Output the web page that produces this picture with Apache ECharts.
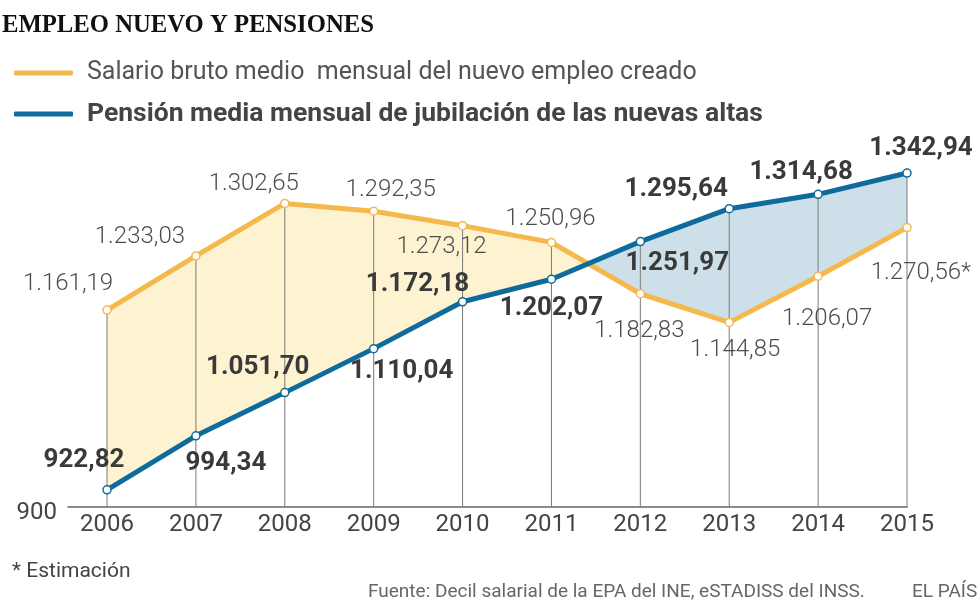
<!DOCTYPE html>
<html>
<head>
<meta charset="utf-8">
<script src="https://cdn.jsdelivr.net/npm/echarts@6/dist/echarts.min.js"></script>
<style>html,body{margin:0;padding:0;background:#fff}#c{width:980px;height:608px}</style>
</head>
<body>
<div id="c"></div>
<script>
// ---- data ----
const years = [2006, 2007, 2008, 2009, 2010, 2011, 2012, 2013, 2014, 2015];
const salario = [1161.19, 1233.03, 1302.65, 1292.35, 1273.12, 1250.96, 1182.83, 1144.85, 1206.07, 1270.56];
const pension = [922.82, 994.34, 1051.70, 1110.04, 1172.18, 1202.07, 1251.97, 1295.64, 1314.68, 1342.94];
const estimado = [false, false, false, false, false, false, false, false, false, true];
const yTicks = [900];
const seriesNames = ['Salario bruto medio  mensual del nuevo empleo creado', 'Pensión media mensual de jubilación de las nuevas altas'];

// ---- styling (label offsets relative to point) ----
const salOffsets = [[-39,-26],[-56,-19],[-31,-19],[17,-21],[-21,21],[-1,-23],[-1,37],[6,28],[9,43],[14,45]];
const penOffsets = [[-23,-29],[30,28],[-27,-25],[28,23],[-45,-17],[0,29],[37,22],[-53,-19],[-17,-22],[14,-25]];

const ORANGE = '#f5b84c', BLUE = '#0f6b9c', FILL_Y = '#fdf3d0', FILL_B = '#cde0ea';
const FONT = 'Roboto, "Liberation Sans", sans-serif';
const BASE = yTicks[0];

function fmt(v) {
  const parts = v.toFixed(2).split('.');
  const intPart = parts[0].replace(/\B(?=(\d{3})+(?!\d))/g, '.');
  return intPart + ',' + parts[1];
}

const chart = echarts.init(document.getElementById('c'), null, {renderer: 'canvas'});

function renderBetween(params, api) {
  const i = api.value(0);
  const children = [];
  if (i < years.length - 1) {
    const x0 = years[i], x1 = years[i + 1];
    const s0 = salario[i], s1 = salario[i + 1], p0 = pension[i], p1 = pension[i + 1];
    const d0 = s0 - p0, d1 = s1 - p1;
    if (d0 * d1 >= 0) {
      const pts = [api.coord([x0, s0]), api.coord([x1, s1]), api.coord([x1, p1]), api.coord([x0, p0])];
      children.push({type: 'polygon', shape: {points: pts}, style: {fill: d0 + d1 >= 0 ? FILL_Y : FILL_B}});
    } else {
      const t = d0 / (d0 - d1);
      const xc = x0 + t * (x1 - x0);
      const yc = s0 + t * (s1 - s0);
      const c = api.coord([xc, yc]);
      children.push({type: 'polygon', shape: {points: [api.coord([x0, s0]), c, api.coord([x0, p0])]}, style: {fill: d0 > 0 ? FILL_Y : FILL_B}});
      children.push({type: 'polygon', shape: {points: [c, api.coord([x1, s1]), api.coord([x1, p1])]}, style: {fill: d1 > 0 ? FILL_Y : FILL_B}});
    }
  }
  const top = api.coord([years[i], Math.max(salario[i], pension[i])]);
  const bot = api.coord([years[i], BASE]);
  children.push({type: 'line', shape: {x1: top[0], y1: top[1], x2: bot[0], y2: bot[1]}, style: {stroke: '#7a7a7a', lineWidth: 1}});
  return {type: 'group', children: children};
}

const option = {
  animation: false,
  backgroundColor: '#fff',
  grid: {left: 68, right: 73, top: 130, bottom: 101},
  xAxis: {
    type: 'value', min: 2005.561, max: 2015,
    splitLine: {show: false},
    axisLine: {show: true, lineStyle: {color: '#666', width: 1.5}},
    axisTick: {show: false},
    axisLabel: {customValues: years, color: '#444', fontSize: 24, fontFamily: FONT, margin: 6, formatter: v => String(v)}
  },
  yAxis: {
    type: 'value', min: 900, max: 1400,
    splitLine: {show: false},
    axisLine: {show: false}, axisTick: {show: false},
    axisLabel: {customValues: yTicks, color: '#444', fontSize: 24, fontFamily: FONT, margin: 11, verticalAlign: 'top', lineHeight: 12, formatter: v => String(v)}
  },
  legend: {
    orient: 'vertical', left: 14, top: 58, itemWidth: 59, itemHeight: 5, itemGap: 11, padding: 0,
    icon: 'roundRect',
    textStyle: {fontFamily: FONT, fontSize: 25, color: '#555', padding: [0, 0, 0, 9], lineHeight: 30},
    data: [
      {name: seriesNames[0], itemStyle: {color: ORANGE, borderWidth: 0}, textStyle: {color: '#555', fontWeight: 'normal', fontSize: 25}},
      {name: seriesNames[1], itemStyle: {color: BLUE, borderWidth: 0}, textStyle: {color: '#444', fontWeight: 'bold', fontSize: 26.5}}
    ]
  },
  graphic: [
    {type: 'text', left: 2, top: 13, style: {text: 'EMPLEO NUEVO Y PENSIONES', font: 'bold 24.7px "Liberation Serif", serif', fill: '#111'}},
    {type: 'text', left: 12, top: 561, style: {text: '* Estimación', font: '21px ' + FONT, fill: '#444'}},
    {type: 'text', left: 368, top: 583, style: {text: 'Fuente: Decil salarial de la EPA del INE, eSTADISS del INSS.', font: '19px ' + FONT, fill: '#666'}},
    {type: 'text', left: 912, top: 583, style: {text: 'EL PAÍS', font: '19px ' + FONT, fill: '#666'}}
  ],
  series: [
    {
      type: 'custom', name: 'fill', silent: true, z: 1,
      renderItem: renderBetween,
      data: years.map((y, i) => [i]),
      encode: {x: -1, y: -1}
    },
    {
      type: 'line', name: seriesNames[0], z: 3,
      color: ORANGE,
      lineStyle: {color: ORANGE, width: 5},
      symbol: 'circle', symbolSize: 8, showSymbol: true,
      itemStyle: {color: '#fff', borderColor: ORANGE, borderWidth: 1.5},
      data: years.map((y, i) => ({
        value: [y, salario[i]],
        label: {show: true, position: 'inside', offset: salOffsets[i], formatter: () => fmt(salario[i]) + (estimado[i] ? '*' : ''),
          color: '#4d4d4d', fontSize: 24, fontFamily: FONT, fontWeight: 300}
      }))
    },
    {
      type: 'line', name: seriesNames[1], z: 4,
      color: BLUE,
      lineStyle: {color: BLUE, width: 5},
      symbol: 'circle', symbolSize: 8, showSymbol: true,
      itemStyle: {color: '#fff', borderColor: BLUE, borderWidth: 1.5},
      data: years.map((y, i) => ({
        value: [y, pension[i]],
        label: {show: true, position: 'inside', offset: penOffsets[i], formatter: () => fmt(pension[i]),
          color: '#3a3a3a', fontSize: 26, fontFamily: FONT, fontWeight: 'bold'}
      }))
    }
  ]
};
chart.setOption(option);
</script>
</body>
</html>
